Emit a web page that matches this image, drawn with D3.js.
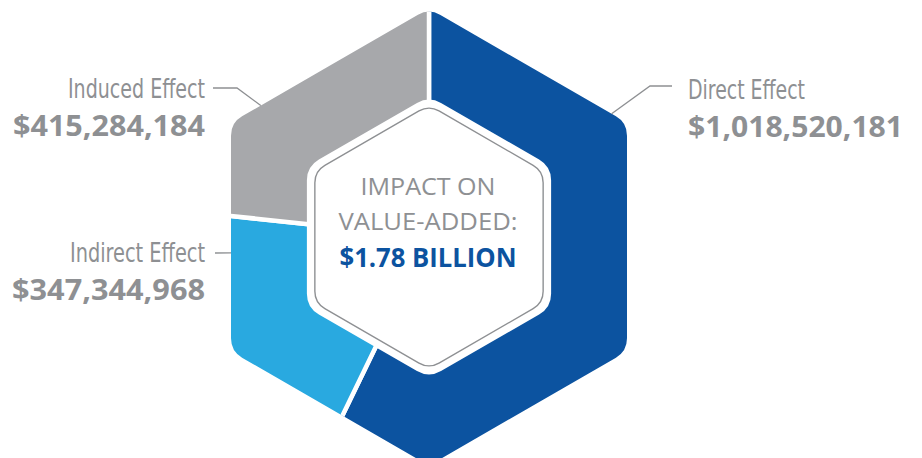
<!DOCTYPE html>
<html>
<head>
<meta charset="utf-8">
<script src="https://cdn.jsdelivr.net/npm/d3@7"></script>
<style>
  body { margin: 0; background: #fff; }
  svg { display: block; }
</style>
</head>
<body>
<div id="chart"></div>
<script>
const categories = ["Direct Effect", "Indirect Effect", "Induced Effect"];
const values = [1018520181, 347344968, 415284184];
const valueLabels = ["$1,018,520,181", "$347,344,968", "$415,284,184"];
const colors = ["#0c53a0", "#29a9e0", "#a7a8ab"];
const centerLines = ["IMPACT ON", "VALUE-ADDED:", "$1.78 BILLION"];

const width = 922;
const height = 458;
const cx = 429;
const cy = 237;
const outerR = 228.6;
const gray = "#8e9093";

// label layout: where the leader touches the hexagon (degrees from top), elbow, text anchor
const labelLayout = [
  { angle: 56, elbow: [650, 86], end: [672, 86], x: 688, y: 99, anchor: "start", nameW: 117, valW: 215 },
  { angle: 265.4, elbow: null, end: [215, 253], x: 205, y: 262, anchor: "end", nameW: 135, valW: 193 },
  { angle: 308, elbow: [237, 88], end: [213, 88], x: 205, y: 98, anchor: "end", nameW: 137, valW: 192 }
];

function hexPath(R, r) {
  const pts = d3.range(6).map(i => {
    const a = i * Math.PI / 3;
    return [cx + R * Math.sin(a), cy - R * Math.cos(a)];
  });
  const p = d3.path();
  const last = pts[5];
  p.moveTo((last[0] + pts[0][0]) / 2, (last[1] + pts[0][1]) / 2);
  for (let i = 0; i < 6; i++) {
    const a = pts[i], b = pts[(i + 1) % 6];
    p.arcTo(a[0], a[1], b[0], b[1], r);
  }
  p.closePath();
  return p.toString();
}

// point on the outer hexagon edge at a given angle (clockwise from top)
function hexEdge(deg) {
  const apothem = outerR * Math.cos(Math.PI / 6);
  const normal = Math.round((deg - 30) / 60) * 60 + 30;
  const dist = apothem / Math.cos((deg - normal) * Math.PI / 180);
  const a = deg * Math.PI / 180;
  return [cx + dist * Math.sin(a), cy - dist * Math.cos(a)];
}

const svg = d3.select("#chart")
  .append("svg")
  .attr("width", width)
  .attr("height", height);

svg.append("clipPath")
  .attr("id", "hex-clip")
  .append("path")
  .attr("d", hexPath(outerR, 22));

const pie = d3.pie().sort(null).value(d => d);
const arc = d3.arc().innerRadius(0).outerRadius(340);

svg.append("g")
  .attr("clip-path", "url(#hex-clip)")
  .attr("transform", `translate(0,0)`)
  .selectAll("path")
  .data(pie(values))
  .enter()
  .append("path")
  .attr("transform", `translate(${cx},${cy})`)
  .attr("d", arc)
  .attr("fill", (d, i) => colors[i])
  .attr("stroke", "#fff")
  .attr("stroke-width", 4.5)
  .attr("stroke-linejoin", "miter");

// inner white hexagon with thin gray outline
svg.append("path")
  .attr("d", hexPath(141, 24))
  .attr("fill", "#fff");
svg.append("path")
  .attr("d", hexPath(131.8, 20))
  .attr("fill", "none")
  .attr("stroke", gray)
  .attr("stroke-width", 1.4);

// leader lines
svg.selectAll(".leader")
  .data(labelLayout)
  .enter()
  .append("polyline")
  .attr("class", "leader")
  .attr("points", d => {
    const pts = [hexEdge(d.angle)];
    if (d.elbow) pts.push(d.elbow);
    pts.push(d.end);
    return pts.map(p => p.join(",")).join(" ");
  })
  .attr("fill", "none")
  .attr("stroke", gray)
  .attr("stroke-width", 1.3);

// labels
const labels = svg.selectAll(".label")
  .data(labelLayout)
  .enter()
  .append("g")
  .attr("class", "label");

labels.append("text")
  .attr("x", d => d.x)
  .attr("y", d => d.y)
  .attr("text-anchor", d => d.anchor)
  .attr("textLength", d => d.nameW)
  .attr("lengthAdjust", "spacingAndGlyphs")
  .style("font-family", "'Liberation Sans Narrow', 'DejaVu Sans Condensed', sans-serif")
  .style("font-size", "26px")
  .attr("fill", gray)
  .text((d, i) => categories[i]);

labels.append("text")
  .attr("x", d => d.x)
  .attr("y", d => d.y + 38)
  .attr("text-anchor", d => d.anchor)
  .attr("textLength", d => d.valW)
  .attr("lengthAdjust", "spacingAndGlyphs")
  .style("font-family", "'Open Sans', sans-serif")
  .style("font-weight", 700)
  .style("font-size", "28px")
  .attr("fill", gray)
  .text((d, i) => valueLabels[i]);

// center text
const centerStyle = [
  { y: 195, size: 24, weight: 400, fill: gray, w: 135 },
  { y: 230, size: 24, weight: 400, fill: gray, w: 179 },
  { y: 267, size: 26, weight: 700, fill: "#0c53a0", w: 177 }
];
svg.selectAll(".center")
  .data(centerLines)
  .enter()
  .append("text")
  .attr("class", "center")
  .attr("x", 428)
  .attr("y", (d, i) => centerStyle[i].y)
  .attr("text-anchor", "middle")
  .attr("textLength", (d, i) => centerStyle[i].w)
  .attr("lengthAdjust", "spacingAndGlyphs")
  .style("font-family", "'Open Sans', sans-serif")
  .style("font-size", (d, i) => centerStyle[i].size + "px")
  .style("font-weight", (d, i) => centerStyle[i].weight)
  .attr("fill", (d, i) => centerStyle[i].fill)
  .text(d => d);
</script>
</body>
</html>
